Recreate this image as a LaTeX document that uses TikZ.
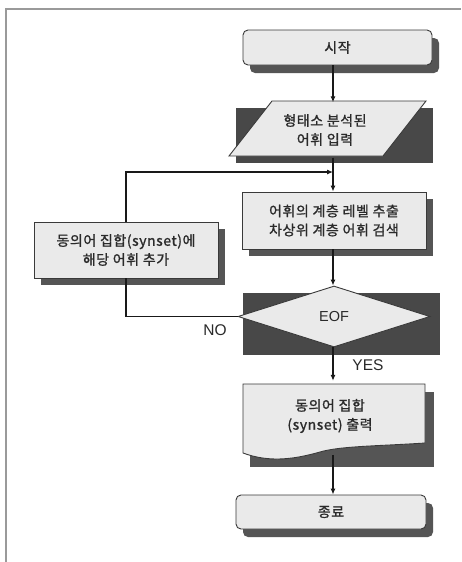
\documentclass[tikz,border=0pt]{standalone}
\usepackage{fontspec}
\setmainfont{Noto Sans CJK KR}[FakeBold=1.2, LetterSpace=4]
\newfontfamily\latinsf{Liberation Sans}
\usetikzlibrary{shapes.geometric,arrows.meta}
\definecolor{boxfill}{HTML}{EAEAEA}
\definecolor{boxline}{HTML}{3A3A3A}
\definecolor{shadowc}{HTML}{555555}
\definecolor{shadowd}{HTML}{484848}
\definecolor{framec}{HTML}{9A9A9A}
\definecolor{txt}{HTML}{2A2A2A}
\tikzset{
  x=1pt, y=-1pt,
  boxbase/.style={draw=boxline, fill=boxfill, line width=0.9pt, text=txt,
     font=\fontsize{14}{19}\selectfont, align=center, inner sep=0pt},
  roundbox/.style={boxbase, rounded corners=5pt},
  rectbox/.style={boxbase},
  textonly/.style={text=txt, font=\fontsize{14}{19}\selectfont, align=center, inner sep=0pt},
  lbl/.style={text=txt, font=\latinsf\fontsize{15.5}{17}\selectfont, inner sep=0pt},
  conn/.style={line width=1.1pt, draw=black!90},
  arr/.style={conn, -{Latex[length=6pt,width=5pt]}},
  shadowbox/.style={fill=shadowc},
  shadowdark/.style={fill=shadowd},
}
\begin{document}
\begin{tikzpicture}
\useasboundingbox (0,0) rectangle (461,562);
\fill[white] (0,0) rectangle (461,562);
% frame
\draw[framec, line width=1.2pt] (6,562) -- (6,9) -- (461,9);

% shadows
\fill[shadowbox, rounded corners=5pt] (250,38) rectangle (439,73);
\fill[shadowdark] (236,108) rectangle (433,163);
\fill[shadowbox] (249,199) rectangle (433,256);
\fill[shadowbox] (41,229) rectangle (225,285);
\fill[shadowdark] (243,293) rectangle (440,355);
\fill[shadowbox] (250,392) rectangle (434,467);
\fill[shadowbox, rounded corners=5pt] (243,503) rectangle (433,537);

% axis coordinate for the main flow line
\coordinate (axis) at (333,0);

% start
\node[roundbox, minimum width=189pt, minimum height=35pt] (start) at (337.5,47.5) {시작};

% input parallelogram
\draw[boxbase] (272,101) -- (426,101) -- (383,156) -- (229,156) -- cycle;
\node[textonly, minimum height=55pt] (inp) at (325,130) {형태소 분석된\\어휘 입력};

% process box
\node[rectbox, minimum width=184pt, minimum height=57pt] (proc) at (334,220.5) {어휘의 계층 레벨 추출\\차상위 계층 어휘 검색};

% left box
\node[rectbox, minimum width=184pt, minimum height=56pt] (add) at (126,250) {동의어 집합(synset)에\\해당 어휘 추가};

% decision
\node[boxbase, diamond, minimum width=192pt, minimum height=61pt, font=\latinsf\fontsize{14.5}{16}\selectfont] (eof) at (334,316.5) {EOF};

% document
\draw[boxbase] (243,384) -- (425,384) -- (425,443)
   .. controls (380,446) and (340,446) .. (320,452)
   .. controls (295,459) and (270,463) .. (243,453) -- cycle;
\node[textonly, minimum height=70pt] (doc) at (330,416) {동의어 집합\\(synset) 출력};

% end
\node[roundbox, minimum width=190pt, minimum height=34pt] (end) at (331,512) {종료};

% connectors
\coordinate (loopin) at (333,172);
\coordinate (docout) at (333,455);
\draw[arr] (start.south -| axis) -- (inp.north -| axis);
\draw[arr] (inp.south -| axis) -- (proc.north -| axis);
\draw[arr] (add.north) |- (loopin);
\draw[arr] (proc.south -| axis) -- (eof.north -| axis);
\draw[conn] (eof.west) -| (add.south);
\draw[arr] (eof.south -| axis) -- (doc.north -| axis);
\draw[arr] (docout) -- (end.north -| axis);

% labels
\node[lbl] (nolbl) at (215,330) {NO};
\node[lbl] (yeslbl) at (368,365) {YES};
\end{tikzpicture}
\end{document}
